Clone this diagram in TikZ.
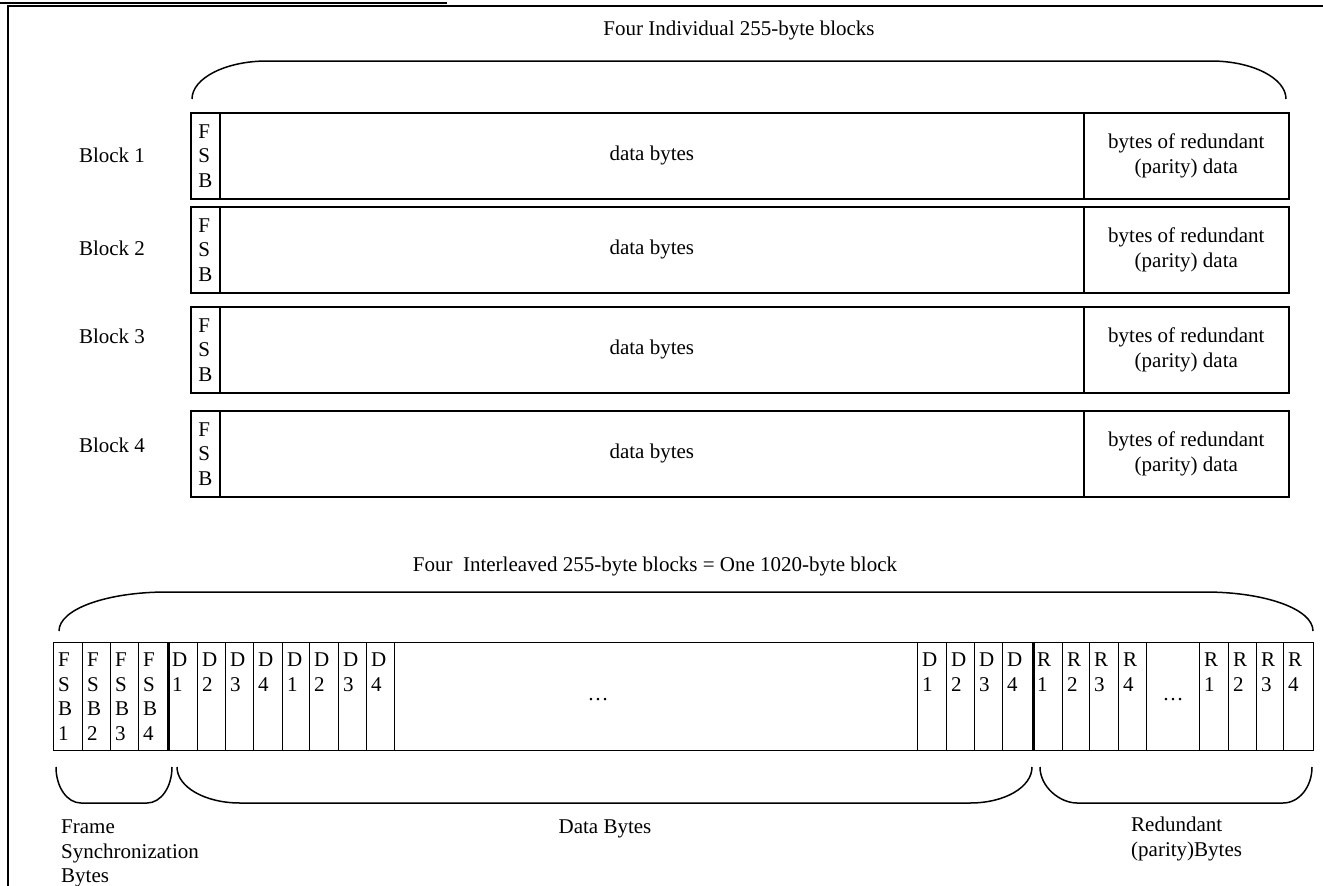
\documentclass[tikz,border=0pt]{standalone}
\usepackage{fontspec}
\setmainfont{Liberation Serif}
\begin{document}
\begin{tikzpicture}[x=1pt,y=-1pt,
  font=\fontsize{21}{24.5}\selectfont,
  blockbox/.style={draw, line width=1.6pt, inner sep=0pt, anchor=north west, minimum height=86pt, align=center},
  cellbox/.style={draw, line width=1.3pt, inner sep=0pt, anchor=north west, minimum height=108pt},
  celltext/.style={inner sep=0pt, anchor=north west, align=left},
  lbl/.style={inner sep=0pt},
  bracepath/.style={line width=1.5pt},
  framepath/.style={line width=1.5pt}]
\useasboundingbox (0,0) rectangle (1323,886);

% frame
\draw[line width=1.8pt] (0,3) -- (447,3);
\draw[framepath] (8,886) -- (8,6) -- (1323,6);

% top part
\node[lbl] (title1) at (739,30) {Four Individual 255-byte blocks};
\draw[bracepath] (192,99) .. controls (192,78) and (226,61) .. (267,61) -- (1211,61)
  .. controls (1252,61) and (1286,78) .. (1286,99);

\foreach \n/\t/\ly in {1/112/155, 2/206/248, 3/306/336, 4/410/445} {
  \node[lbl] (blk\n) at (112,\ly) {Block \n};
  \node[blockbox, minimum width=29pt, align=left] (fsb\n) at (190,\t) {F\\S\\B};
  \node[blockbox, minimum width=864pt] (data\n) at (219,\t) {data bytes};
  \node[blockbox, minimum width=205pt] (par\n) at (1083,\t) {bytes of redundant\\(parity) data};
}

% bottom part
\node[lbl] (title2) at (655,566) {Four\ \ Interleaved 255-byte blocks = One 1020-byte block};
\draw[bracepath] (59,631) .. controls (59,609) and (107,592) .. (167,592) -- (1205,592)
  .. controls (1265,592) and (1313,609) .. (1313,631);

\foreach \nm/\xa/\w/\txt in {
  f1/53/29/{F\\S\\B\\1}, f2/82/28/{F\\S\\B\\2}, f3/110/28/{F\\S\\B\\3}, f4/138/29/{F\\S\\B\\4},
  d1/167/30/{D\\1}, d2/197/28/{D\\2}, d3/225/28/{D\\3}, d4/253/29/{D\\4},
  d5/282/27/{D\\1}, d6/309/29/{D\\2}, d7/338/28/{D\\3}, d8/366/28/{D\\4},
  e1/917/29/{D\\1}, e2/946/28/{D\\2}, e3/974/28/{D\\3}, e4/1002/30/{D\\4},
  r1/1032/30/{R\\1}, r2/1062/27/{R\\2}, r3/1089/29/{R\\3}, r4/1118/28/{R\\4},
  r5/1199/29/{R\\1}, r6/1228/28/{R\\2}, r7/1256/27/{R\\3}, r8/1283/30/{R\\4}} {
  \node[cellbox, minimum width=\w pt] (\nm) at (\xa,642) {};
  \node[celltext] (\nm t) at ([xshift=5pt,yshift=-11pt]\nm.north west) {\txt};
}
\node[cellbox, minimum width=523pt] (mid) at (394,642) {};
\node[lbl] (middots) at ([xshift=-58pt,yshift=-3pt]mid.center) {…};
\node[cellbox, minimum width=53pt] (gap) at (1146,642) {};
\node[lbl] (gapdots) at ([yshift=-3pt]gap.center) {…};

\draw[line width=2.8pt] (f4.north east) -- (f4.south east);
\draw[line width=2.8pt] (e4.north east) -- (e4.south east);

% lower braces
\draw[bracepath] (56,767) .. controls (56,787) and (67,803) .. (81,803) -- (147,803)
  .. controls (161,803) and (172,787) .. (172,767);
\draw[bracepath] (177,767) .. controls (177,787) and (205,803) .. (240,803) -- (970,803)
  .. controls (1005,803) and (1032,787) .. (1032,767);
\draw[bracepath] (1040,767) .. controls (1040,787) and (1060,803) .. (1077,803) -- (1283,803)
  .. controls (1299,803) and (1312,787) .. (1312,767);

\node[celltext] (fsblabel) at (61,820) {Frame\\Synchronization\\Bytes};
\node[lbl, anchor=base] (datalabel) at (605,833) {Data Bytes};
\node[celltext] (redlabel) at (1131,817) {Redundant\\(parity)Bytes};
\end{tikzpicture}
\end{document}
